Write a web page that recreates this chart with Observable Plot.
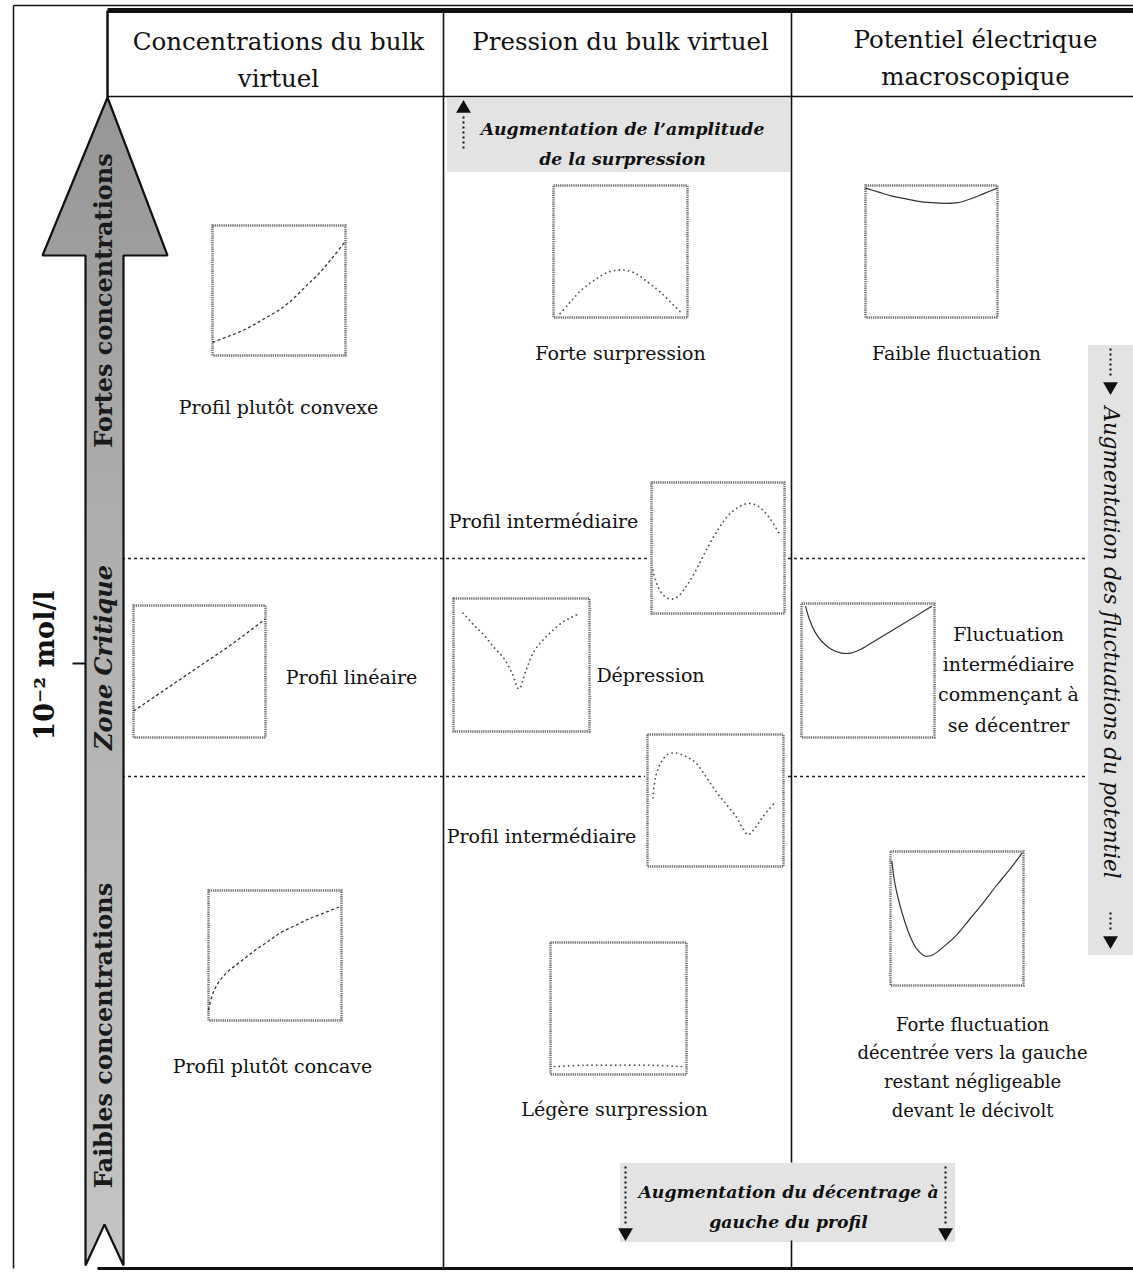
<!DOCTYPE html>
<html><head><meta charset="utf-8">
<script src="https://cdn.jsdelivr.net/npm/d3@7"></script>
<script src="https://cdn.jsdelivr.net/npm/@observablehq/plot@0.6"></script>
<style>
html,body{margin:0;padding:0;background:#fff;}
#wrap{position:relative;width:1133px;height:1274px;overflow:hidden;font-family:"DejaVu Serif",serif;}
#wrap svg{position:absolute;max-width:none;}
</style></head><body><div id="wrap"></div>
<script>
// ---------------- DATA ----------------
const columnTitles = ["Concentrations du bulk\nvirtuel", "Pression du bulk virtuel", "Potentiel électrique\nmacroscopique"];
const concentrationZones = ["Fortes concentrations", "Zone Critique", "Faibles concentrations"];
const thresholdLabel = "10⁻² mol/l";
const trendLabels = ["Augmentation de l’amplitude\nde la surpression", "Augmentation du décentrage à\ngauche du profil", "Augmentation des fluctuations du potentiel"];
const profileLabels = [
  "Profil plutôt convexe", "Profil linéaire", "Profil plutôt concave",
  "Forte surpression", "Profil intermédiaire", "Dépression", "Profil intermédiaire", "Légère surpression",
  "Faible fluctuation", "Fluctuation\nintermédiaire\ncommençant à\nse décentrer",
  "Forte fluctuation\ndécentrée vers la gauche\nrestant négligeable\ndevant le décivolt"
];
// profile curves, [position, value] normalised to the small boxes
const profilConvexe = [[0,0.1],[0.1,0.14],[0.2,0.18],[0.3,0.23],[0.4,0.29],[0.5,0.35],[0.6,0.43],[0.7,0.53],[0.8,0.63],[0.9,0.75],[1,0.88]];
const profilLineaire = [[0,0.2],[0.25,0.37],[0.5,0.54],[0.75,0.71],[1,0.9]];
const profilConcave = [[0,0.08],[0.03,0.2],[0.08,0.3],[0.15,0.38],[0.25,0.46],[0.35,0.54],[0.45,0.61],[0.55,0.68],[0.65,0.73],[0.75,0.78],[0.85,0.82],[1,0.88]];
const forteSurpression = [[0.05,0.03],[0.12,0.11],[0.2,0.2],[0.3,0.28],[0.4,0.34],[0.5,0.36],[0.6,0.34],[0.7,0.27],[0.8,0.19],[0.9,0.09],[0.95,0.04]];
const intermediaireHaut = [[0.01,0.33],[0.05,0.2],[0.1,0.13],[0.15,0.11],[0.2,0.13],[0.27,0.22],[0.35,0.36],[0.43,0.52],[0.5,0.64],[0.57,0.74],[0.65,0.81],[0.73,0.84],[0.8,0.82],[0.88,0.74],[0.96,0.61]];
const depression = [[0.07,0.89],[0.15,0.8],[0.22,0.73],[0.3,0.63],[0.37,0.55],[0.43,0.44],[0.48,0.32],[0.53,0.45],[0.59,0.6],[0.66,0.69],[0.72,0.75],[0.8,0.82],[0.87,0.86],[0.93,0.89]];
const intermediaireBas = [[0.04,0.52],[0.06,0.68],[0.1,0.79],[0.15,0.85],[0.2,0.86],[0.27,0.84],[0.35,0.79],[0.43,0.68],[0.51,0.56],[0.58,0.47],[0.65,0.38],[0.7,0.29],[0.74,0.24],[0.79,0.29],[0.85,0.38],[0.94,0.49]];
const legereSurpression = [[0.03,0.06],[0.25,0.07],[0.5,0.07],[0.75,0.07],[0.97,0.06]];
const faibleFluctuation = [[0,0.98],[0.1,0.95],[0.2,0.92],[0.3,0.9],[0.4,0.88],[0.5,0.87],[0.6,0.865],[0.7,0.87],[0.8,0.9],[0.9,0.94],[1,0.98]];
const fluctuationInter = [[0.03,0.98],[0.06,0.88],[0.1,0.79],[0.15,0.72],[0.22,0.66],[0.3,0.63],[0.37,0.63],[0.45,0.66],[0.55,0.72],[0.65,0.78],[0.75,0.84],[0.85,0.9],[0.98,0.98]];
const forteFluctuation = [[0.01,0.93],[0.03,0.78],[0.06,0.64],[0.1,0.5],[0.15,0.36],[0.2,0.27],[0.26,0.22],[0.32,0.23],[0.4,0.29],[0.5,0.38],[0.6,0.5],[0.7,0.62],[0.8,0.75],[0.9,0.87],[0.99,0.99]];

// ---------------- LAYOUT ----------------
const W = 1133, H = 1274;
const frameLines = [
  {x1:13,y1:5,x2:1133,y2:5,w:1.5},
  {x1:107,y1:10,x2:1133,y2:10,w:5},
  {x1:13,y1:5,x2:13,y2:1268,w:1.5},
  {x1:107,y1:10,x2:107,y2:97,w:2.5},
  {x1:107,y1:96,x2:1133,y2:96,w:1.6},
  {x1:443,y1:10,x2:443,y2:1268,w:1.6},
  {x1:791,y1:10,x2:791,y2:1162,w:1.6},
  {x1:791,y1:1240,x2:791,y2:1268,w:1.6},
  {x1:97,y1:1268,x2:1133,y2:1268,w:3},
  {x1:72,y1:663,x2:85,y2:663,w:2}
];
const zoneLines = [{y:558,x1:122,x2:1088},{y:776,x1:122,x2:1088}];
const shadedBoxes = [
  {x1:447,x2:790,y1:98,y2:172},
  {x1:620,x2:955,y1:1163,y2:1242},
  {x1:1088,x2:1133,y1:345,y2:955}
];
const arrowOutline = [
  {x:107,y:97},{x:167,y:255},{x:123,y:255},{x:123,y:1265},{x:104,y:1224},
  {x:85,y:1265},{x:85,y:255},{x:42,y:255},{x:107,y:97}
];
const arrowStems = [
  {x1:463,y1:116,x2:463,y2:150},
  {x1:625,y1:1166,x2:625,y2:1224},
  {x1:945,y1:1166,x2:945,y2:1224},
  {x1:1110,y1:348,x2:1110,y2:378},
  {x1:1110,y1:912,x2:1110,y2:932}
];
const arrowHeads = [
  {x:463,y:108,r:0},{x:625,y:1232,r:180},{x:945,y:1232,r:180},
  {x:1110,y:386,r:180},{x:1110,y:940,r:180}
];
const titlePos = [{x:278,y:56},{x:620,y:38},{x:975,y:54}];
const zonePos = [{x:104,y:300},{x:104,y:657},{x:104,y:1035}];
const trendPos = [{x:622,y:140},{x:788,y:1203},{x:1110,y:642}];
const labelPos = [
  {x:278,y:404,s:19},{x:351,y:674,s:19},{x:272,y:1063,s:19},
  {x:620,y:350,s:19},{x:543,y:518,s:19},{x:650,y:672,s:19},{x:541,y:833,s:19},{x:614,y:1106,s:19},
  {x:956,y:350,s:19},{x:1008,y:676,s:19},{x:972,y:1064,s:18}
];
const miniBoxes = [
  {data:profilConvexe, x:212,y:225,w:133,h:130,col:0},
  {data:profilLineaire, x:133,y:605,w:132,h:132,col:0},
  {data:profilConcave, x:208,y:890,w:133,h:130,col:0},
  {data:forteSurpression, x:553,y:185,w:134,h:132,col:1},
  {data:intermediaireHaut, x:651,y:482,w:133,h:131,col:1},
  {data:depression, x:453,y:598,w:136,h:133,col:1},
  {data:intermediaireBas, x:647,y:734,w:136,h:132,col:1},
  {data:legereSurpression, x:550,y:942,w:136,h:132,col:1},
  {data:faibleFluctuation, x:865,y:185,w:132,h:132,col:2},
  {data:fluctuationInter, x:801,y:603,w:133,h:134,col:2},
  {data:forteFluctuation, x:890,y:851,w:133,h:134,col:2}
];
const curveStyles = [
  {stroke:"#333", w:1.3, dash:"3,2.5", cap:"butt"},
  {stroke:"#555", w:1.8, dash:"0.1,4.6", cap:"round"},
  {stroke:"#333", w:1.2, dash:null, cap:"butt"}
];

// ---------------- DRAW ----------------
const wrap = document.getElementById("wrap");
const font = "DejaVu Serif";
const zoneRows = concentrationZones.map((t, i) => ({t, ...zonePos[i]}));
const trendRows = trendLabels.map((t, i) => ({t, ...trendPos[i]}));

const main = Plot.plot({
  width: W, height: H, margin: 0,
  x: {domain: [0, W], range: [0, W], axis: null},
  y: {domain: [0, H], range: [0, H], axis: null},
  style: {background: "white", fontFamily: font, overflow: "visible"},
  marks: [
    Plot.rect(shadedBoxes, {x1:"x1", x2:"x2", y1:"y1", y2:"y2", fill:"#e3e3e3"}),
    Plot.ruleY(zoneLines, {y:"y", x1:"x1", x2:"x2", stroke:"#222", strokeWidth:1.5, strokeDasharray:"3,3"}),
    Plot.link(frameLines, {x1:"x1", y1:"y1", x2:"x2", y2:"y2", strokeWidth:"w", stroke:"#111"}),
    Plot.line(arrowOutline, {x:"x", y:"y", fill:"url(#arrowGrad)", stroke:"#111", strokeWidth:2.2, strokeLinejoin:"miter"}),
    Plot.link(arrowStems, {x1:"x1", y1:"y1", x2:"x2", y2:"y2", stroke:"#111", strokeWidth:2, strokeDasharray:"2,3"}),
    Plot.dot(arrowHeads, {x:"x", y:"y", rotate:"r", symbol:"triangle", r:5.5, fill:"#111", stroke:"none"}),
    Plot.text(columnTitles, {x:(d,i)=>titlePos[i].x, y:(d,i)=>titlePos[i].y, text:d=>d, fontSize:24.5, lineHeight:1.51, fill:"#111", fontFamily:font}),
    Plot.text(zoneRows.filter((d,i)=>i!==1), {x:"x", y:"y", text:"t", rotate:-90, fontSize:24, fontWeight:"bold", fill:"#1a1a1a", fontFamily:font}),
    Plot.text(zoneRows.filter((d,i)=>i===1), {x:"x", y:"y", text:"t", rotate:-90, fontSize:24, fontWeight:"bold", fontStyle:"italic", fill:"#1a1a1a", fontFamily:font}),
    Plot.text([thresholdLabel], {x:45, y:665, text:d=>d, rotate:-90, fontSize:27, fontWeight:"bold", fill:"#111", fontFamily:font}),
    Plot.text(trendRows.slice(0, 2), {x:"x", y:"y", text:"t", fontSize:17.3, fontStyle:"italic", fontWeight:"bold", lineHeight:1.72, fill:"#111", fontFamily:font}),
    Plot.text(trendRows.slice(2), {x:"x", y:"y", text:"t", rotate:90, fontSize:21.5, fontStyle:"italic", fill:"#111", fontFamily:font}),
    Plot.text(profileLabels, {x:(d,i)=>labelPos[i].x, y:(d,i)=>labelPos[i].y, text:d=>d, fontSize:(d,i)=>labelPos[i].s, lineHeight:1.6, fill:"#111", fontFamily:font})
  ]
});
const defs = document.createElementNS("http://www.w3.org/2000/svg", "defs");
defs.innerHTML = '<linearGradient id="arrowGrad" x1="0" y1="0" x2="0" y2="1"><stop offset="0" stop-color="#959595"/><stop offset="0.35" stop-color="#adadad"/><stop offset="1" stop-color="#c4c4c4"/></linearGradient>';
main.insertBefore(defs, main.firstChild);
main.style.left = "0px"; main.style.top = "0px";
wrap.appendChild(main);

const pad = 2;
for (const b of miniBoxes) {
  const s = curveStyles[b.col];
  const svg = Plot.plot({
    width: b.w + 2*pad, height: b.h + 2*pad, margin: pad,
    x: {domain: [0, 1], axis: null},
    y: {domain: [0, 1], axis: null},
    style: {background: "white", overflow: "visible"},
    marks: [
      Plot.frame({stroke:"#707070", strokeWidth:2.4, strokeDasharray:"1.3,0.9"}),
      Plot.line(b.data, {x:d=>d[0], y:d=>d[1], curve:"catmull-rom", stroke:s.stroke, strokeWidth:s.w, strokeDasharray:s.dash, strokeLinecap:s.cap})
    ]
  });
  svg.style.left = (b.x - pad) + "px";
  svg.style.top = (b.y - pad) + "px";
  wrap.appendChild(svg);
}
</script></body></html>
